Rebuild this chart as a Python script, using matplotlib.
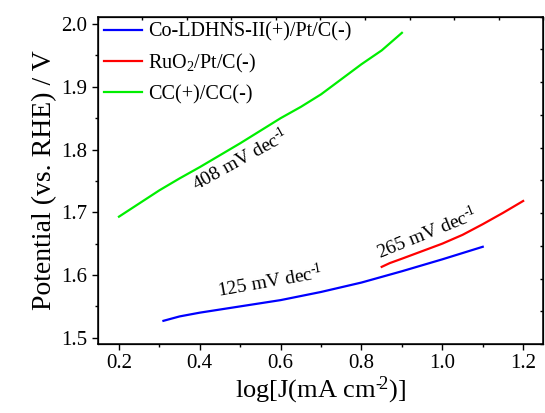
import numpy as np
import matplotlib
matplotlib.use("Agg")
import matplotlib.pyplot as plt
from matplotlib.ticker import MultipleLocator

plt.rcParams["font.family"] = ["Liberation Serif", "DejaVu Serif"]
plt.rcParams["mathtext.fontset"] = "custom"
plt.rcParams["mathtext.rm"] = "Liberation Serif"
plt.rcParams["mathtext.it"] = "Liberation Serif"

# Tafel curves: log current density vs potential
co_logj = [0.31, 0.35, 0.40, 0.50, 0.60, 0.70, 0.80, 0.90, 1.00, 1.10]
co_pot = [1.527, 1.534, 1.540, 1.550, 1.560, 1.573, 1.588, 1.606, 1.625, 1.645]

ruo2_logj = [0.85, 0.87, 0.90, 0.95, 1.00, 1.05, 1.10, 1.15, 1.20]
ruo2_pot = [1.613, 1.619, 1.626, 1.638, 1.650, 1.664, 1.681, 1.699, 1.718]

cc_logj = [0.20, 0.25, 0.30, 0.35, 0.40, 0.45, 0.50, 0.55, 0.60, 0.65, 0.70,
           0.75, 0.80, 0.85, 0.90]
cc_pot = [1.693, 1.714, 1.735, 1.754, 1.772, 1.791, 1.810, 1.830, 1.850, 1.868,
          1.888, 1.912, 1.936, 1.958, 1.986]

labels = ["Co-LDHNS-II(+)/Pt/C(-)", "RuO$_2$/Pt/C(-)", "CC(+)/CC(-)"]
colors = ["#0000ff", "#ff0000", "#00ee00"]

# superscripts use a hyphen rather than a math minus
slopes = ["125 mV dec$^{\u2010\\!1}$", "265 mV dec$^{\u2010\\!1}$",
          "408 mV dec$^{\u2010\\!1}$"]


def main():
    fig = plt.figure(figsize=(5.45, 4.13), dpi=100)
    ax = fig.add_axes([0.179, 0.167, 0.818, 0.793])

    series = [(co_logj, co_pot), (ruo2_logj, ruo2_pot), (cc_logj, cc_pot)]
    for (x, y), label, color in zip(series, labels, colors):
        ax.plot(x, y, color=color, lw=1.6, label=label)

    ax.set_xlim(0.147, 1.25)
    ax.set_ylim(1.49, 2.012)
    ax.xaxis.set_major_locator(MultipleLocator(0.2))
    ax.xaxis.set_minor_locator(MultipleLocator(0.1))
    ax.yaxis.set_major_locator(MultipleLocator(0.1))
    ax.yaxis.set_minor_locator(MultipleLocator(0.05))
    ax.xaxis.set_major_formatter(lambda v, pos: f"{v:.1f}")
    ax.yaxis.set_major_formatter(lambda v, pos: f"{v:.1f}")
    ax.tick_params(which="major", direction="out", length=4, width=1, labelsize=15)
    ax.tick_params(which="minor", direction="out", length=2.5, width=1)
    for sp in ax.spines.values():
        sp.set_linewidth(1.1)

    # small inward ticks on top and right, ten equal divisions
    top = ax.twiny()
    top.set_xlim(0, 1)
    top.set_xticks(np.linspace(0, 1, 11))
    top.tick_params(direction="in", length=2, width=1, labeltop=False)
    right = ax.twinx()
    right.set_ylim(0, 1)
    right.set_yticks(np.linspace(0, 1, 11))
    right.tick_params(direction="in", length=2, width=1, labelright=False)

    ax.set_xlabel("log[J(mA cm$^{\u2010\\!2}$)]", fontsize=19, labelpad=1)
    ax.set_ylabel("Potential (vs. RHE) / V", fontsize=20, labelpad=3)

    ax.text(0.50, 1.783, slopes[2], rotation=29, ha="center", va="center", fontsize=14)
    ax.text(0.962, 1.6665, slopes[1], rotation=22, ha="center", va="center", fontsize=14)
    ax.text(0.574, 1.589, slopes[0], rotation=10, ha="center", va="center", fontsize=14)

    ax.legend(loc="upper left", frameon=False, fontsize=14.5, handlelength=1.9,
              handletextpad=0.3, labelspacing=0.5, borderaxespad=0.0,
              borderpad=0.3, bbox_to_anchor=(0.0, 1.0))

    fig.savefig("out.png", dpi=100)
    plt.close(fig)


if __name__ == "__main__":
    main()
